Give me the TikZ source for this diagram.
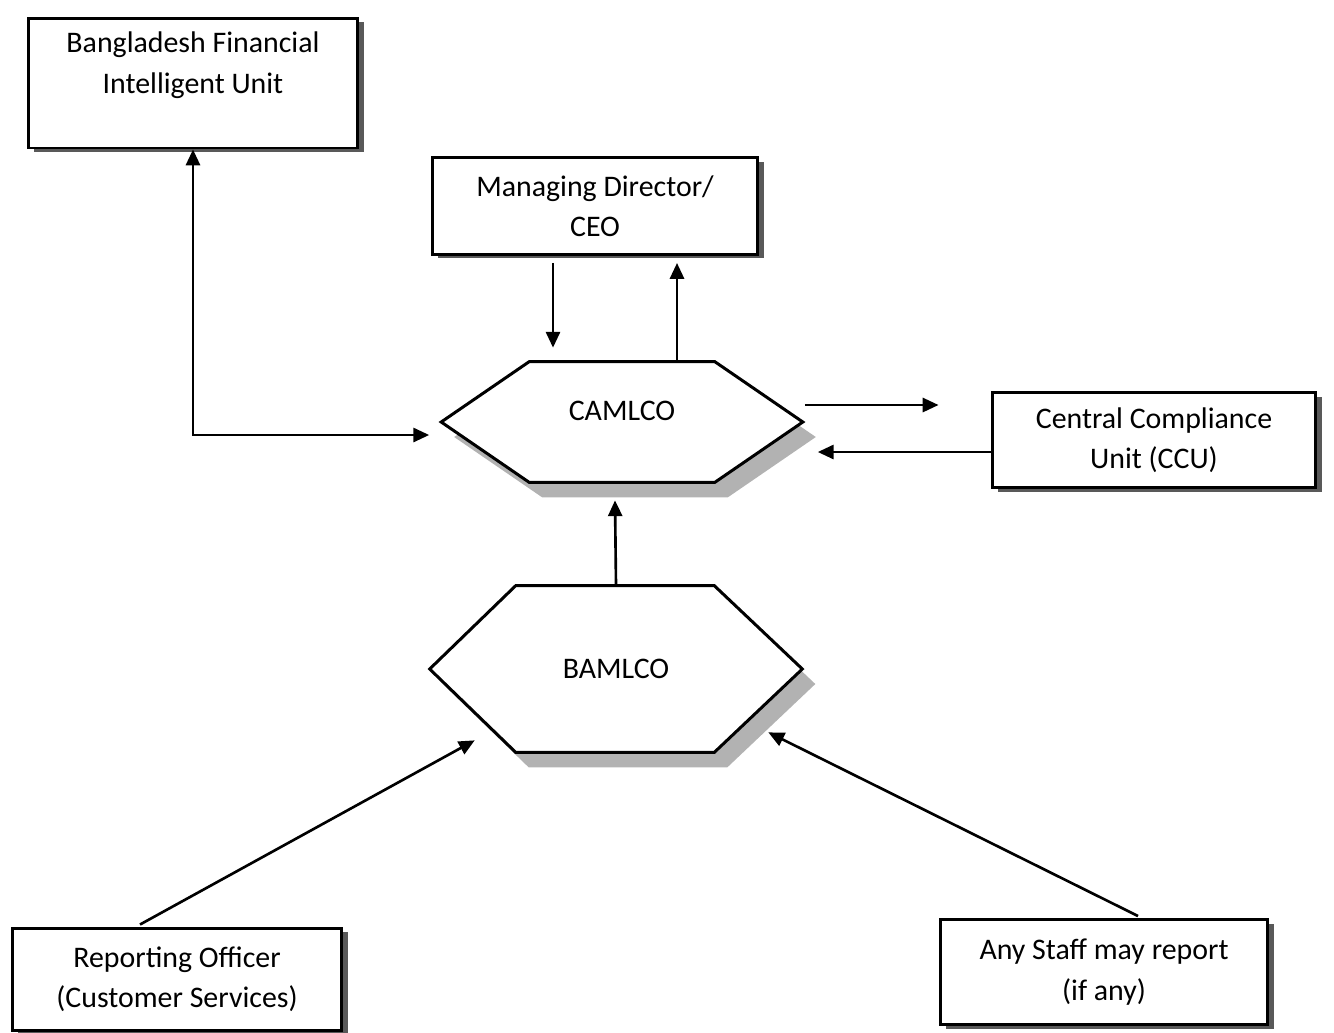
\documentclass[tikz,border=0pt]{standalone}
\usepackage{fontspec}
\setmainfont{Carlito}
\usetikzlibrary{positioning,arrows.meta,calc,shadows,backgrounds}

\begin{document}
\begin{tikzpicture}[x=0.02cm,y=-0.02cm,
    >={Triangle[length=9pt,width=8pt]},
    box/.style={draw,fill=white,line width=1.7pt,align=center,
      font=\fontsize{17}{23}\selectfont,
      drop shadow={shadow xshift=0.12cm,shadow yshift=-0.08cm,fill=black!65,opacity=1}},
    hexa/.style={draw,fill=white,line width=1.7pt,
      drop shadow={shadow xshift=0.26cm,shadow yshift=-0.3cm,fill=black!30,opacity=1}},
    hextext/.style={align=center,font=\fontsize{17}{23}\selectfont},
    arr/.style={line width=1.5pt,->}]
    \useasboundingbox (0,0) rectangle (1334,1032);

    % === Boxes ===
    \node[box,minimum width=6.6cm,minimum height=2.6cm] (bfiu) at (193,83)
        {Bangladesh Financial\\Intelligent Unit\\~};
    \node[box,minimum width=6.52cm,minimum height=1.94cm] (md) at (595,206)
        {Managing Director/\\CEO};
    \node[box,minimum width=6.48cm,minimum height=1.9cm] (ccu) at (1154,440)
        {Central Compliance\\Unit (CCU)};
    \node[box,minimum width=6.6cm,minimum height=2.04cm] (ro) at (177,979)
        {Reporting Officer\\(Customer Services)};
    \node[box,minimum width=6.56cm,minimum height=2.1cm] (staff) at (1104,972)
        {Any Staff may report\\(if any)};

    % === CAMLCO ===
    \node[hextext,minimum width=7.22cm,minimum height=2.4cm,text depth=0.45cm] (camlco) at (622,422) {CAMLCO};
    \begin{scope}[on background layer]
        \path[hexa] (camlco.west) -- ($(camlco.north west)+(88,0)$)
            -- ($(camlco.north east)+(-88,0)$) -- (camlco.east)
            -- ($(camlco.south east)+(-88,0)$) -- ($(camlco.south west)+(88,0)$) -- cycle;
    \end{scope}

    % === BAMLCO ===
    \node[hextext,minimum width=7.44cm,minimum height=3.32cm] (bamlco) at (616,669) {BAMLCO};
    \begin{scope}[on background layer]
        \path[hexa] (bamlco.west) -- ($(bamlco.north west)+(86,0)$)
            -- ($(bamlco.north east)+(-88,0)$) -- (bamlco.east)
            -- ($(bamlco.south east)+(-88,0)$) -- ($(bamlco.south west)+(86,0)$) -- cycle;
    \end{scope}

    % Flèches
    \draw[arr,<->] (bfiu.south) |- ($(camlco.west)+(-12,13)$);
    \draw[arr] ($(md.south)+(-42,7)$) -- ($(camlco.north)+(-69,-14)$);
    \draw[arr] ($(camlco.north)+(55,0)$) -- ($(md.south)+(82,7)$);
    \draw[arr] ($(camlco.east)+(2,-17)$) -- ($(ccu.west)+(-52,-35)$);
    \draw[arr] ($(ccu.west)+(0,12)$) -- ($(camlco.east)+(15,30)$);
    \draw[arr] (bamlco.north) -- ($(camlco.south)+(-7,18)$);
    \draw[arr] ($(ro.north)+(-37,-2)$) -- ($(bamlco.south west)+(45,-12)$);
    \draw[arr] ($(staff.north)+(34,-2)$) -- ($(bamlco.south east)+(-34,-20)$);
\end{tikzpicture}
\end{document}
